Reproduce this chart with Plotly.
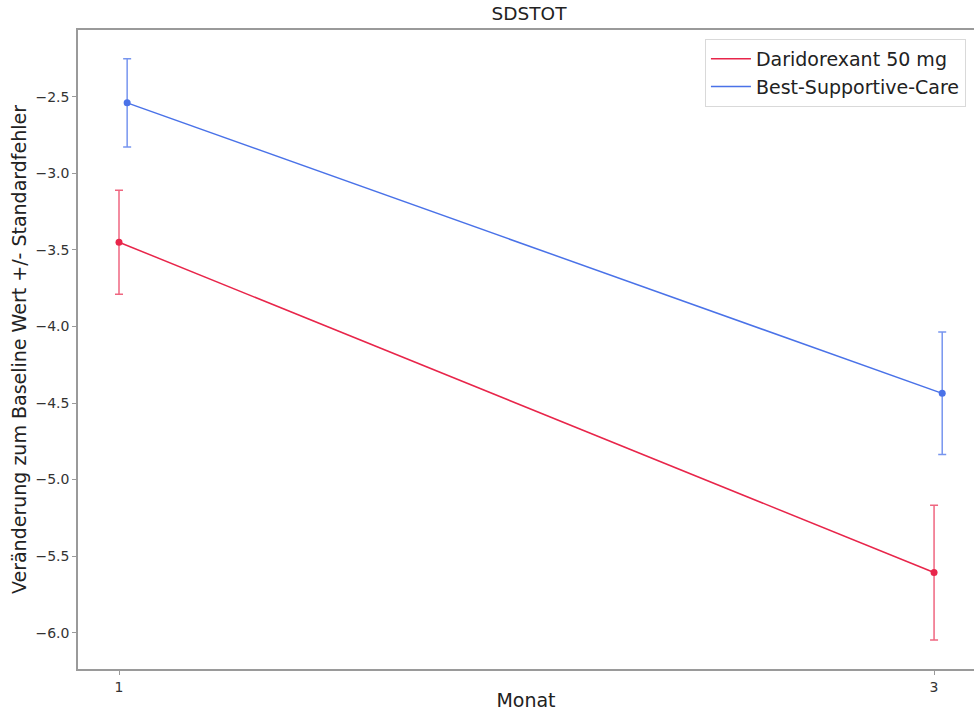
import plotly.graph_objects as go

# Study visits (months) and group-wise offsets so error bars do not overlap
months = [1, 3]
offsets = {"Daridorexant 50 mg": 0.0, "Best-Supportive-Care": 0.02}

# Mean change from baseline and standard error per visit
groups = ["Daridorexant 50 mg", "Best-Supportive-Care"]
mean_change = {
    "Daridorexant 50 mg": [-3.45, -5.607],
    "Best-Supportive-Care": [-2.54, -4.437],
}
std_err = {
    "Daridorexant 50 mg": [0.34, 0.44],
    "Best-Supportive-Care": [0.288, 0.40],
}
colors = {
    "Daridorexant 50 mg": "#e8254a",
    "Best-Supportive-Care": "#4a72e8",
}
err_colors = {
    "Daridorexant 50 mg": "rgba(232,37,74,0.7)",
    "Best-Supportive-Care": "rgba(74,114,232,0.75)",
}

y_ticks = [-6.0, -5.5, -5.0, -4.5, -4.0, -3.5, -3.0, -2.5]
y_tick_text = ["\u22126.0", "\u22125.5", "\u22125.0", "\u22124.5",
               "\u22124.0", "\u22123.5", "\u22123.0", "\u22122.5"]

fig = go.Figure()
for g in groups:
    xs = [m + offsets[g] for m in months]
    # line (legend entry)
    fig.add_trace(go.Scatter(
        x=xs, y=mean_change[g], mode="lines", name=g,
        line=dict(color=colors[g], width=1.5),
    ))
    # points with error bars
    fig.add_trace(go.Scatter(
        x=xs, y=mean_change[g], mode="markers", showlegend=False,
        marker=dict(color=colors[g], size=7),
        error_y=dict(type="data", array=std_err[g], visible=True,
                     color=err_colors[g], thickness=1.5, width=4),
    ))

axis_font = dict(family="DejaVu Sans", size=14, color="#333333")
label_font = dict(family="DejaVu Sans", size=19, color="#222222")
fig.update_layout(
    width=974, height=717,
    margin=dict(l=78, r=0, t=30, b=48),
    paper_bgcolor="white", plot_bgcolor="white",
    font=dict(family="DejaVu Sans", color="#222222"),
    title=dict(text="SDSTOT", x=529 / 974, xanchor="center",
               yref="container", y=1 - 14 / 717, yanchor="middle",
               font=dict(size=18.5, color="#222222")),
    legend=dict(x=0.991, xanchor="right", y=0.986, yanchor="top",
                bgcolor="white", bordercolor="#d9d9d9", borderwidth=1,
                font=dict(size=19, color="#222222"),
                tracegroupgap=0, itemwidth=40),
    showlegend=True,
)
fig.update_xaxes(
    range=[0.8994, 3.098], tickvals=months, ticktext=[str(m) for m in months],
    showgrid=False, zeroline=False,
    showline=True, linecolor="#9a9a9a", linewidth=1.5, mirror=True,
    ticks="outside", ticklen=4, tickcolor="#9a9a9a", tickfont=axis_font,
    title=dict(text="Monat", font=label_font, standoff=0),
)
fig.update_yaxes(
    range=[-6.237, -2.0643], tickvals=y_ticks, ticktext=y_tick_text,
    showgrid=False, zeroline=False,
    showline=True, linecolor="#9a9a9a", linewidth=1.5,
    ticks="outside", ticklen=4, tickcolor="#9a9a9a", tickfont=axis_font,
    title=dict(text="Veränderung zum Baseline Wert +/- Standardfehler",
               font=label_font, standoff=4),
)

fig.write_html("out.html")
